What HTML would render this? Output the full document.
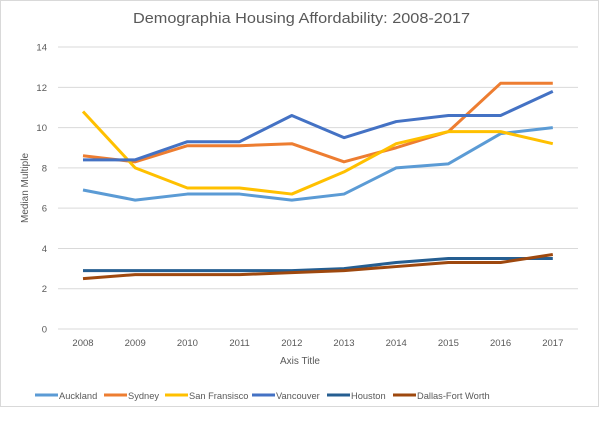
<!DOCTYPE html><html><head><style>body{margin:0;background:#fff}svg{display:block;font-family:"Liberation Sans",sans-serif}</style></head><body>
<svg id="s" width="600" height="426" viewBox="0 0 600 426">
<rect x="0.5" y="0.5" width="598" height="406" fill="#fff" stroke="#d9d9d9"/>
<text x="133" y="23" font-size="15" fill="#595959" textLength="337" lengthAdjust="spacingAndGlyphs">Demographia Housing Affordability: 2008-2017</text>
<g id="g"></g>
<text x="300" y="364" text-anchor="middle" font-size="10" fill="#595959">Axis Title</text>
<text transform="translate(28,188) rotate(-90)" text-anchor="middle" font-size="10" fill="#595959">Median Multiple</text>
<g font-size="9.3" fill="#595959" stroke-width="3">
<line x1="35" y1="395" x2="58" y2="395" stroke="#5b9bd5"/><text x="59" y="399">Auckland</text>
<line x1="104" y1="395" x2="127" y2="395" stroke="#ed7d31"/><text x="128" y="399">Sydney</text>
<line x1="165" y1="395" x2="188" y2="395" stroke="#ffc000"/><text x="189" y="399">San Fransisco</text>
<line x1="252" y1="395" x2="275" y2="395" stroke="#4472c4"/><text x="276" y="399">Vancouver</text>
<line x1="327" y1="395" x2="350" y2="395" stroke="#255e91"/><text x="351" y="399">Houston</text>
<line x1="393" y1="395" x2="416" y2="395" stroke="#9e480e"/><text x="417" y="399">Dallas-Fort Worth</text>
</g>
</svg>
<script>
var g=document.getElementById('g'),h='';
function Y(v){return 329-v*20.14}function X(i){return 83+i*52.2}
for(var v=0;v<=14;v+=2){var y=Y(v);h+='<line x1="58" x2="578" y1="'+y+'" y2="'+y+'" stroke="#d9d9d9"/>';h+='<text x="47" y="'+(y+3.5)+'" text-anchor="end" font-size="9.5" fill="#595959">'+v+'</text>';}
for(var i=0;i<10;i++)h+='<text x="'+X(i)+'" y="346" text-anchor="middle" font-size="9.5" fill="#595959">'+(2008+i)+'</text>';
var S=[["#5b9bd5",[6.9,6.4,6.7,6.7,6.4,6.7,8.0,8.2,9.7,10.0]],
["#ed7d31",[8.6,8.3,9.1,9.1,9.2,8.3,9.0,9.8,12.2,12.2]],
["#ffc000",[10.8,8.0,7.0,7.0,6.7,7.8,9.2,9.8,9.8,9.2]],
["#4472c4",[8.4,8.4,9.3,9.3,10.6,9.5,10.3,10.6,10.6,11.8]],
["#255e91",[2.9,2.9,2.9,2.9,2.9,3.0,3.3,3.5,3.5,3.5]],
["#9e480e",[2.5,2.7,2.7,2.7,2.8,2.9,3.1,3.3,3.3,3.7]]];
S.forEach(function(s){h+='<polyline fill="none" stroke="'+s[0]+'" stroke-width="3" stroke-linejoin="round" points="'+s[1].map(function(v,i){return X(i)+','+Y(v)}).join(' ')+'"/>';});
g.innerHTML=h;
</script>
</body></html>
